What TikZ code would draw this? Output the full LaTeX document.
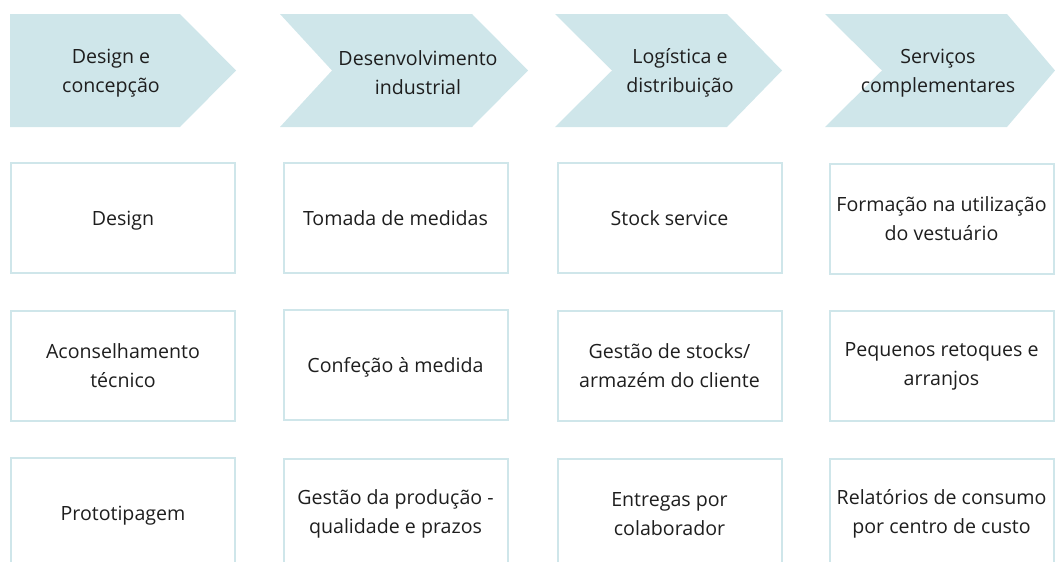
\documentclass[tikz,border=0pt]{standalone}
\usepackage{fontspec}
\setmainfont{Open Sans}
\usepackage{tikz}
\definecolor{pale}{HTML}{CFE6EA}
\definecolor{ink}{HTML}{1E1E1E}

\begin{document}
\begin{tikzpicture}[x = 1pt, y = -1pt,
  label/.style = {align = center, text = ink, inner sep = 0pt,
    font = \fontsize{19.6}{29}\selectfont},
  cell/.style = {label, draw = pale, line width = 2pt,
    minimum width = 224pt, minimum height = 110pt},
  oneline/.style = {text height = 19pt, text depth = 5pt}]
\useasboundingbox (0, 0) rectangle (1055, 562);
\clip (0, 0) rectangle (1055, 562);
% chevrons
\fill[pale] (10, 14) -- (180, 14) -- (236, 70.5) -- (180, 127) -- (10, 127) -- cycle;
\fill[pale] (280, 14) -- (472, 14) -- (528, 70.5) -- (472, 127) -- (280, 127) -- (332, 70.5) -- cycle;
\fill[pale] (555, 14) -- (727, 14) -- (782, 70.5) -- (727, 127) -- (555, 127) -- (612, 70.5) -- cycle;
\fill[pale] (825, 14) -- (1007, 14) -- (1055, 70.5) -- (1007, 127) -- (825, 127) -- (882, 70.5) -- cycle;
\node (concepcao) at (111, 73) [label] {Design e\\concepção};
\node (industrial) at (418, 73) [label] {Desenvolvimento\\industrial};
\node (logistica) at (680, 73) [label] {Logística e\\distribuição};
\node (servicos) at (938, 73) [label] {Serviços\\complementares};
% first row
\node (design) at (123, 218) [cell, oneline] {Design};
\node (medidas) at (395.5, 218) [cell, oneline] {Tomada de medidas};
\node (stock) at (669.5, 218) [cell, oneline] {Stock service};
\node (formacao) at (941.5, 219) [cell] {Formação na utilização\\do vestuário};
% second row
\node (conselho) at (123, 366) [cell] {Aconselhamento\\técnico};
\node (confecao) at (395.5, 365) [cell, oneline] {Confeção à medida};
\node (armazem) at (669.5, 366) [cell] {Gestão de stocks/\\armazém do cliente};
\node (retoques) at (941.5, 366) [cell] {Pequenos retoques e\\arranjos};
% third row
\node (prototipo) at (123, 513) [cell, oneline] {Prototipagem};
\node (producao) at (395.5, 514) [cell] {Gestão da produção -\\qualidade e prazos};
\node (entregas) at (669.5, 514) [cell] {Entregas por\\colaborador};
\node (relatorios) at (941.5, 514) [cell] {Relatórios de consumo\\por centro de custo};
\end{tikzpicture}
\end{document}
